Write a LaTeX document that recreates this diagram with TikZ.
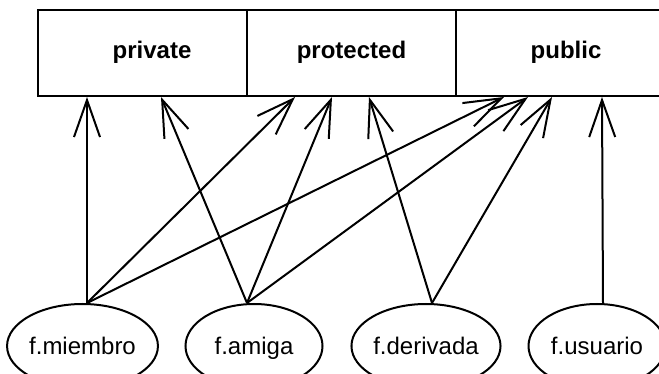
\documentclass[tikz,border=0pt]{standalone}
\usepackage{fontspec}
\setmainfont{Liberation Sans}
\usetikzlibrary{arrows.meta, shapes.geometric}

\begin{document}
\begin{tikzpicture}[x=1pt, y=-1pt,
  access/.style={draw, line width=2pt, minimum width=209pt, minimum height=86pt, inner sep=0pt, text height=17pt, text depth=5pt, font=\fontsize{24}{28}\selectfont\bfseries},
  func/.style={draw, ellipse, line width=2pt, minimum width=137pt, minimum height=84pt, inner sep=0pt, text height=17pt, text depth=0pt, font=\fontsize{24}{28}\selectfont},
  uses/.style={line width=2pt, -{Straight Barb[length=37pt, width=26pt]}}
]
  \clip (0,0) rectangle (659,374);

  \node[access] (priv) at (142.5,53) {\hspace*{19pt}private};
  \node[access] (prot) at (351.5,53) {protected};
  \node[access, minimum width=220pt] (publ) at (566,53) {public};

  \node[func] (miem) at (82.5,346) {f.miembro};
  \node[func] (amig) at (254,346) {f.amiga};
  \node[func] (deri) at (426,346) {f.derivada};
  \node[func] (usua) at (597,346) {f.usuario};

  \draw[uses] ([xshift=4.5pt]miem.north) -- ([xshift=50pt]priv.south west);
  \draw[uses] ([xshift=4.5pt]miem.north) -- ([xshift=49pt]prot.south west);
  \draw[uses] ([xshift=4.5pt]miem.north) -- ([xshift=49pt]publ.south west);

  \draw[uses] ([xshift=-7pt]amig.north) -- ([xshift=124pt]priv.south west);
  \draw[uses] ([xshift=-7pt]amig.north) -- ([xshift=86pt]prot.south west);
  \draw[uses] ([xshift=-7pt]amig.north) -- ([xshift=73pt]publ.south west);

  \draw[uses] ([xshift=6pt]deri.north) -- ([xshift=123pt]prot.south west);
  \draw[uses] ([xshift=6pt]deri.north) -- ([xshift=97pt]publ.south west);

  \draw[uses] ([xshift=6pt]usua.north) -- ([xshift=147pt]publ.south west);
\end{tikzpicture}
\end{document}
